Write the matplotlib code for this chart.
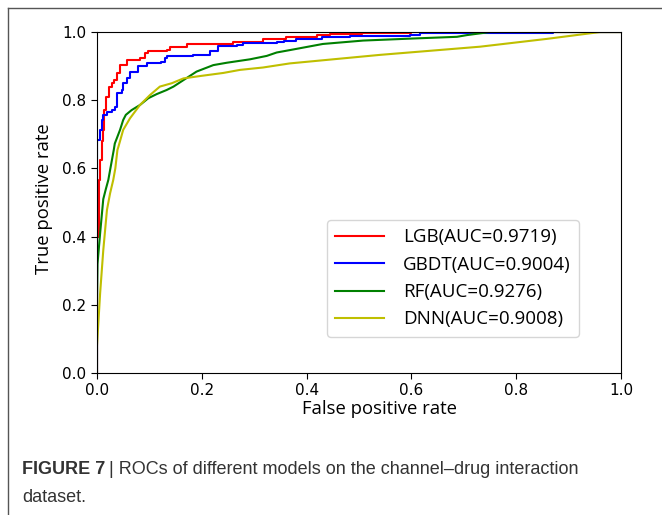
import matplotlib
matplotlib.use("Agg")
import matplotlib.pyplot as plt
from matplotlib.lines import Line2D

# ROC points
lgb_fpr = [0, 0, 0.003, 0.004, 0.006, 0.009, 0.011, 0.013, 0.017, 0.022, 0.028, 0.032,
           0.038, 0.044, 0.057, 0.082, 0.092, 0.098, 0.133, 0.139, 0.171, 0.26, 0.317,
           0.36, 0.42, 0.445, 0.506, 0.6, 1.0]
lgb_tpr = [0, 0.40, 0.43, 0.566, 0.625, 0.68, 0.713, 0.77, 0.81, 0.84, 0.85, 0.86,
           0.879, 0.903, 0.918, 0.923, 0.938, 0.943, 0.947, 0.955, 0.965, 0.972, 0.98,
           0.985, 0.991, 0.994, 0.996, 1.0, 1.0]

gbdt_fpr = [0, 0, 0.0006, 0.006, 0.009, 0.012, 0.0185, 0.028, 0.034, 0.0376, 0.047, 0.050,
            0.057, 0.063, 0.079, 0.095, 0.123, 0.13, 0.133, 0.184, 0.216, 0.231, 0.267,
            0.279, 0.343, 0.356, 0.38, 0.43, 0.483, 0.597, 0.616, 0.87, 1.0]
gbdt_tpr = [0, 0.44, 0.683, 0.713, 0.742, 0.757, 0.766, 0.771, 0.781, 0.82, 0.83, 0.85,
            0.864, 0.884, 0.899, 0.908, 0.913, 0.923, 0.93, 0.933, 0.943, 0.958, 0.962,
            0.967, 0.972, 0.975, 0.979, 0.985, 0.988, 0.991, 0.996, 1.0, 1.0]

rf_fpr = [0, 0, 0.001, 0.006, 0.012, 0.017, 0.0216, 0.025, 0.032, 0.034, 0.044, 0.05,
          0.055, 0.066, 0.082, 0.098, 0.114, 0.133, 0.146, 0.165, 0.19, 0.222, 0.248,
          0.292, 0.324, 0.343, 0.368, 0.431, 0.508, 0.603, 0.687, 0.706, 0.75, 1.0]
rf_tpr = [0, 0.2, 0.32, 0.41, 0.51, 0.54, 0.566, 0.595, 0.654, 0.673, 0.713, 0.742,
          0.757, 0.771, 0.786, 0.806, 0.818, 0.83, 0.84, 0.859, 0.884, 0.903, 0.91,
          0.92, 0.93, 0.94, 0.947, 0.965, 0.975, 0.981, 0.986, 0.991, 1.0, 1.0]

dnn_fpr = [0, 0, 0.006, 0.012, 0.019, 0.025, 0.031, 0.035, 0.039, 0.041, 0.05, 0.063,
           0.082, 0.101, 0.12, 0.143, 0.165, 0.197, 0.241, 0.273, 0.317, 0.368, 0.54,
           0.731, 0.859, 0.96, 1.0]
dnn_tpr = [0, 0.08, 0.234, 0.36, 0.478, 0.527, 0.566, 0.6, 0.654, 0.664, 0.713, 0.747,
           0.786, 0.815, 0.84, 0.85, 0.864, 0.871, 0.88, 0.889, 0.896, 0.908, 0.933,
           0.957, 0.98, 1.0, 1.0]

labels = ["LGB(AUC=0.9719)", "GBDT(AUC=0.9004)", "RF(AUC=0.9276)", "DNN(AUC=0.9008)"]
ticks = [0.0, 0.2, 0.4, 0.6, 0.8, 1.0]

fig = plt.figure(figsize=(6.62, 5.15), dpi=100)
ax = fig.add_axes([0.1465, 0.2757, 0.7915, 0.6621])

ax.plot(lgb_fpr, lgb_tpr, color="r", lw=1.5, drawstyle="steps-post", label=labels[0])
ax.plot(gbdt_fpr, gbdt_tpr, color="b", lw=1.5, drawstyle="steps-post", label=labels[1])
ax.plot(rf_fpr, rf_tpr, color="g", lw=1.5, label=labels[2])
ax.plot(dnn_fpr, dnn_tpr, color="y", lw=1.5, label=labels[3])

ax.set_xlim(0, 1)
ax.set_ylim(0, 1)
ax.set_xticks(ticks)
ax.set_yticks(ticks)
ax.tick_params(labelsize=11, length=4)
ax.set_xlabel("False positive rate", fontsize=13.3, family="Open Sans")
ax.set_ylabel("True positive rate", fontsize=13.3, family="Open Sans")
ax.xaxis.set_label_coords(0.54, -0.08)
ax.yaxis.set_label_coords(-0.084, 0.51)

ax.legend(loc="upper left", bbox_to_anchor=(0.439, 0.449), borderaxespad=0,
          prop={"family": "Open Sans", "size": 13.5}, handlelength=2.6,
          handletextpad=1.0, labelspacing=0.5, borderpad=0.45)

# outer frame of the published figure panel
fig.add_artist(Line2D([8 / 662, 1], [1 - 8 / 515, 1 - 8 / 515], color="#555555", lw=1))
fig.add_artist(Line2D([8 / 662, 8 / 662], [0, 1 - 8 / 515], color="#555555", lw=1))

# caption
cap_font = ["Liberation Sans Narrow", "Liberation Sans"]
t1 = fig.text(22 / 662, 1 - 470 / 515, "FIGURE 7", fontsize=13, fontweight="bold",
              family=cap_font, color="#333333", va="center")
fig.canvas.draw()
bb = t1.get_window_extent()
fig.text((bb.x1 + 4) / 662, 1 - 470 / 515,
         "| ROCs of different models on the channel\u2013drug interaction",
         fontsize=13, family=cap_font, color="#333333", va="center")
fig.text(22 / 662, 1 - 497 / 515, "dataset.", fontsize=13, family=cap_font,
         color="#333333", va="center")

fig.savefig("out.png", dpi=100)
